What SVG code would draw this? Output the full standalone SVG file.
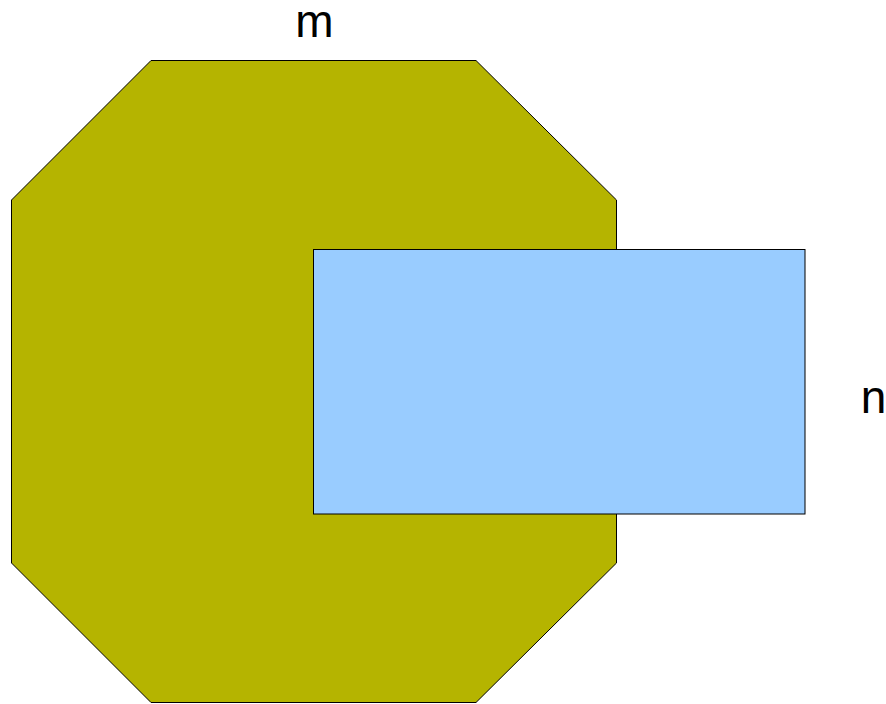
<svg xmlns="http://www.w3.org/2000/svg" width="886" height="704" viewBox="0 0 886 704">
<style>
.lbl{font-family:"Liberation Sans",Arial,sans-serif;font-size:46px;fill:#000;text-anchor:middle}
.shape{stroke:#000;stroke-width:1}
</style>
<rect width="886" height="704" fill="#fff"/>
<g id="m">
<polygon class="shape" fill="#b5b400" points="151,60.5 476,60.5 616.5,200 616.5,563 476,702.5 151,702.5 11.5,563 11.5,200"/>
<text class="lbl" x="314.5" y="37">m</text>
</g>
<g id="n">
<rect class="shape" fill="#99ccff" x="313.5" y="249.5" width="491.5" height="264.5"/>
<text class="lbl" x="873.5" y="413">n</text>
</g>
<g id="connectors"></g>
</svg>
